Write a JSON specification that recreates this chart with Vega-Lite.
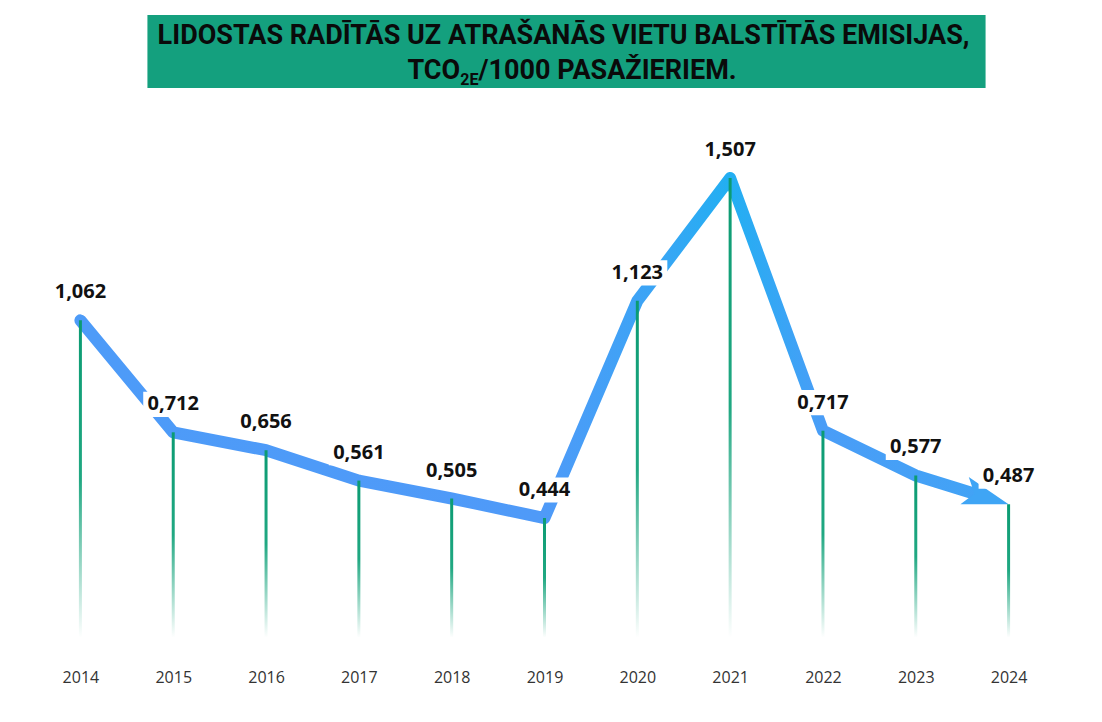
{
  "$schema": "https://vega.github.io/schema/vega-lite/v6.json",
  "width": 1021,
  "height": 660,
  "autosize": {"type": "none"},
  "padding": {"left": 34, "top": 0, "right": 47, "bottom": 50},
  "background": "#ffffff",
  "config": {
    "view": {"stroke": null},
    "axisY": {"disable": true},
    "locale": {"number": {"decimal": ",", "thousands": " ", "grouping": [3], "currency": ["", " €"]}}
  },
  "data": {
    "values": [
      {"year": 2014, "value": 1.062},
      {"year": 2015, "value": 0.712},
      {"year": 2016, "value": 0.656},
      {"year": 2017, "value": 0.561},
      {"year": 2018, "value": 0.505},
      {"year": 2019, "value": 0.444},
      {"year": 2020, "value": 1.123},
      {"year": 2021, "value": 1.507},
      {"year": 2022, "value": 0.717},
      {"year": 2023, "value": 0.577},
      {"year": 2024, "value": 0.487}
    ]
  },
  "layer": [
    {
      "mark": {
        "type": "line",
        "strokeWidth": 12,
        "strokeCap": "round",
        "strokeJoin": "round",
        "strokeDash": [1350, 300],
        "stroke": {
          "gradient": "linear", "x1": 0, "y1": 0, "x2": 1, "y2": 0,
          "stops": [
            {"offset": 0, "color": "#4d9bf8"},
            {"offset": 0.5, "color": "#4f9af8"},
            {"offset": 0.62, "color": "#3aa5f5"},
            {"offset": 0.7, "color": "#22aff2"},
            {"offset": 0.8, "color": "#4a9df7"},
            {"offset": 1, "color": "#40a4f5"}
          ]
        }
      },
      "encoding": {
        "x": {
          "field": "year", "type": "quantitative", "title": null,
          "scale": {"domain": [2013.5, 2024.5], "nice": false, "zero": false, "padding": 0},
          "axis": {
            "values": [2014, 2015, 2016, 2017, 2018, 2019, 2020, 2021, 2022, 2023, 2024],
            "format": "d", "domain": false, "ticks": false, "grid": false,
            "labelFont": "Open Sans", "labelFontSize": 16, "labelColor": "#333333",
            "labelPadding": 9
          }
        },
        "y": {
          "field": "value", "type": "quantitative", "title": null,
          "scale": {"domain": [0, 2.0638], "nice": false, "zero": true, "padding": 0}
        }
      }
    },
    {
      "transform": [{"filter": "datum.year == 2024"}],
      "mark": {
        "type": "point",
        "shape": "M -1 -0.62 L 1 0 L -1 0.62 L -0.55 0 Z",
        "filled": true, "size": 2116, "opacity": 1, "angle": 17,
        "xOffset": -22, "yOffset": -6.8, "fill": "#3fa5f5", "strokeWidth": 0
      },
      "encoding": {
        "x": {"field": "year", "type": "quantitative", "title": null},
        "y": {"field": "value", "type": "quantitative", "title": null}
      }
    },
    {
      "mark": {
        "type": "bar", "size": 3,
        "fill": {
          "gradient": "linear", "x1": 0, "y1": 0, "x2": 0, "y2": 1,
          "stops": [
            {"offset": 0, "color": "#0b9b72"},
            {"offset": 0.5, "color": "#20a882"},
            {"offset": 1, "color": "#ffffff"}
          ]
        }
      },
      "encoding": {
        "x": {"field": "year", "type": "quantitative", "title": null},
        "y": {"field": "value", "type": "quantitative", "title": null},
        "y2": {"datum": 0.07}
      }
    },
    {
      "mark": {
        "type": "point",
        "shape": "M -1 -0.42 L 1 -0.42 L 1 0.42 L -1 0.42 Z",
        "filled": true, "size": 3600, "opacity": 1, "fill": "#ffffff",
        "strokeWidth": 0, "yOffset": -28
      },
      "encoding": {
        "x": {"field": "year", "type": "quantitative", "title": null},
        "y": {"field": "value", "type": "quantitative", "title": null}
      }
    },
    {
      "mark": {
        "type": "text", "font": "Open Sans", "fontSize": 20, "fontWeight": "bold",
        "color": "#111111", "dy": -28, "baseline": "middle", "align": "center"
      },
      "encoding": {
        "x": {"field": "year", "type": "quantitative", "title": null},
        "y": {"field": "value", "type": "quantitative", "title": null},
        "text": {"field": "value", "type": "quantitative", "format": ".3f"}
      }
    },
    {
      "data": {"values": [{}]},
      "mark": {"type": "rect", "fill": "#14a07e"},
      "encoding": {
        "x": {"datum": 2014.722, "type": "quantitative", "title": null},
        "x2": {"datum": 2023.752},
        "y": {"datum": 2.0169, "type": "quantitative", "title": null},
        "y2": {"datum": 1.7886}
      }
    },
    {
      "data": {"values": [{}]},
      "mark": {
        "type": "text", "font": "Roboto", "fontSize": 27, "fontWeight": "bold",
        "color": "#0a0a0a", "baseline": "middle", "align": "center"
      },
      "encoding": {
        "x": {"datum": 2019.205, "type": "quantitative", "title": null},
        "y": {"datum": 1.9512, "type": "quantitative", "title": null},
        "text": {"value": "LIDOSTAS RADĪTĀS UZ ATRAŠANĀS VIETU BALSTĪTĀS EMISIJAS,"}
      }
    },
    {
      "data": {"values": [{}]},
      "mark": {
        "type": "text", "font": "Roboto", "fontSize": 27, "fontWeight": "bold",
        "color": "#0a0a0a", "baseline": "middle", "align": "right"
      },
      "encoding": {
        "x": {"datum": 2018.09, "type": "quantitative", "title": null},
        "y": {"datum": 1.8418, "type": "quantitative", "title": null},
        "text": {"value": "TCO"}
      }
    },
    {
      "data": {"values": [{}]},
      "mark": {
        "type": "text", "font": "Roboto", "fontSize": 16, "fontWeight": "bold",
        "color": "#0a0a0a", "baseline": "middle", "align": "left"
      },
      "encoding": {
        "x": {"datum": 2018.093, "type": "quantitative", "title": null},
        "y": {"datum": 1.8136, "type": "quantitative", "title": null},
        "text": {"value": "2E"}
      }
    },
    {
      "data": {"values": [{}]},
      "mark": {
        "type": "text", "font": "Roboto", "fontSize": 27, "fontWeight": "bold",
        "color": "#0a0a0a", "baseline": "middle", "align": "left"
      },
      "encoding": {
        "x": {"datum": 2018.289, "type": "quantitative", "title": null},
        "y": {"datum": 1.8418, "type": "quantitative", "title": null},
        "text": {"value": "/1000 PASAŽIERIEM."}
      }
    }
  ]
}
